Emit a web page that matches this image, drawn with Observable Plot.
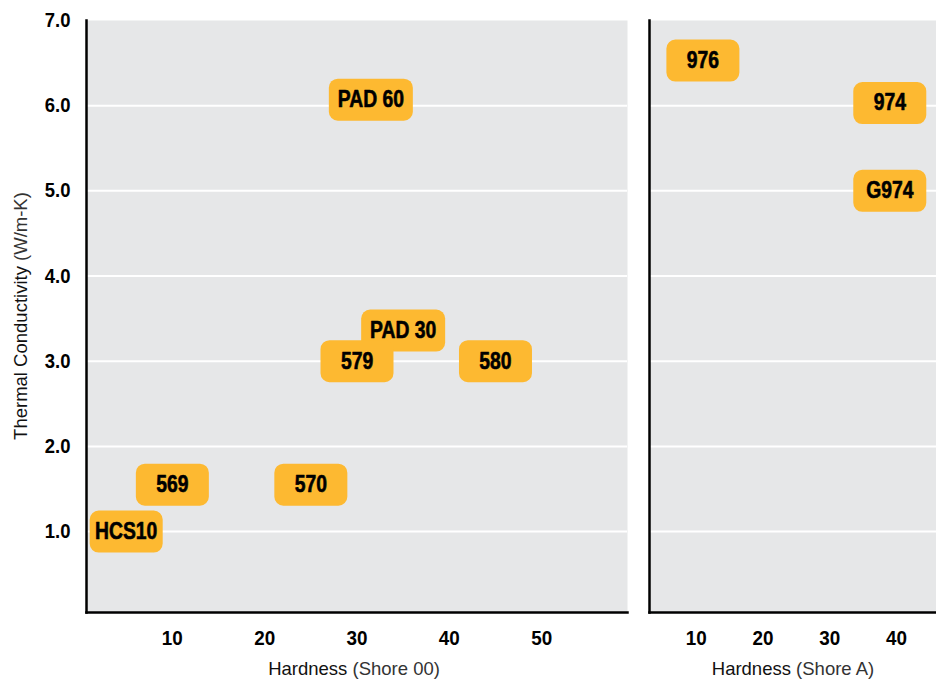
<!DOCTYPE html>
<html>
<head>
<meta charset="utf-8">
<script src="https://cdn.jsdelivr.net/npm/d3@7"></script>
<script src="https://cdn.jsdelivr.net/npm/@observablehq/plot@0.6"></script>
<style>
  html, body { margin: 0; padding: 0; background: #fff; }
  #chart { display: flex; flex-direction: row; width: 936px; height: 679px; }
  #chart svg { display: block; }
</style>
</head>
<body>
<div id="chart"></div>
<script>
// Shore 00 panel
const products00 = ["HCS10", "569", "570", "PAD 30", "579", "580", "PAD 60"];
const hardness00 = [5, 10, 25, 35, 30, 45, 31.5];
const conductivity00 = [1.0, 1.55, 1.55, 3.36, 3.0, 3.0, 6.07];

// Shore A panel
const productsA = ["976", "974", "G974"];
const hardnessA = [11, 39, 39];
const conductivityA = [6.53, 6.03, 5.0];

// tick labels
const yTicks = [1, 2, 3, 4, 5, 6, 7];
const gridTicks = [1, 2, 3, 4, 5, 6];
const xTicks00 = [10, 20, 30, 40, 50];
const xTicksA = [10, 20, 30, 40];

const rows00 = products00.map((p, i) => ({label: p, x: hardness00[i], y: conductivity00[i]}));
const rowsA = productsA.map((p, i) => ({label: p, x: hardnessA[i], y: conductivityA[i]}));

const ORANGE = "#fdb931";
const BG = "#e6e7e8";
const boldFont = "'Liberation Sans', Arial, Helvetica, sans-serif";
const regular = "'Liberation Sans', Arial, Helvetica, sans-serif";

function roundRect(w, h, r) {
  return {
    draw(ctx) {
      const x0 = -w / 2, y0 = -h / 2, x1 = w / 2, y1 = h / 2;
      ctx.moveTo(x0 + r, y0);
      ctx.lineTo(x1 - r, y0);
      ctx.arcTo(x1, y0, x1, y0 + r, r);
      ctx.lineTo(x1, y1 - r);
      ctx.arcTo(x1, y1, x1 - r, y1, r);
      ctx.lineTo(x0 + r, y1);
      ctx.arcTo(x0, y1, x0, y1 - r, r);
      ctx.lineTo(x0, y0 + r);
      ctx.arcTo(x0, y0, x0 + r, y0, r);
      ctx.closePath();
    }
  };
}
const wideBox = roundRect(84, 42, 9);
const narrowBox = roundRect(73, 42, 9);
const isWide = d => d.label.length >= 6;

function labelMarks(rows) {
  return [
    Plot.dot(rows, {filter: isWide, x: "x", y: "y", symbol: wideBox, fill: ORANGE, stroke: null, r: 10}),
    Plot.dot(rows, {filter: d => !isWide(d), x: "x", y: "y", symbol: narrowBox, fill: ORANGE, stroke: null, r: 10}),
    Plot.text(rows, {x: "x", y: "y", text: "label", fill: "#000", stroke: "#000", strokeWidth: 0.6, fontSize: 23, fontWeight: "bold", fontFamily: boldFont, dy: 0})
  ];
}

const yDomain = [0.05, 7];
const tickStyle = {tickSize: 0, fontWeight: "bold", fontSize: 20.5, stroke: "#000", strokeWidth: 0.45, label: null};

const left = Plot.plot({
  width: 627, height: 679,
  marginLeft: 86, marginRight: 0, marginTop: 20, marginBottom: 67,
  style: {fontFamily: boldFont, fontSize: "19px", color: "#000", background: "transparent", overflow: "visible"},
  x: {domain: [0.7, 59.3], label: null},
  y: {domain: yDomain, label: null},
  marks: [
    Plot.frame({fill: BG, stroke: null}),
    Plot.gridY(gridTicks, {stroke: "#fff", strokeOpacity: 1, strokeWidth: 2}),
    Plot.axisY(yTicks, {...tickStyle, tickPadding: 16, tickFormat: d3.format(".1f")}),
    Plot.axisX(xTicks00, {...tickStyle, tickPadding: 18}),
    Plot.frame({anchor: "left", stroke: "#000", strokeWidth: 2.5}),
    Plot.frame({anchor: "bottom", stroke: "#000", strokeWidth: 2.5}),
    ...labelMarks(rows00)
  ]
});

const right = Plot.plot({
  width: 309, height: 679,
  marginLeft: 22, marginRight: 0, marginTop: 20, marginBottom: 67,
  style: {fontFamily: boldFont, fontSize: "19px", color: "#000", background: "transparent", overflow: "visible"},
  x: {domain: [3, 46], label: null},
  y: {domain: yDomain, label: null, axis: null},
  marks: [
    Plot.frame({fill: BG, stroke: null}),
    Plot.gridY(gridTicks, {stroke: "#fff", strokeOpacity: 1, strokeWidth: 2}),
    Plot.axisX(xTicksA, {...tickStyle, tickPadding: 18}),
    Plot.frame({anchor: "left", stroke: "#000", strokeWidth: 2.5}),
    Plot.frame({anchor: "bottom", stroke: "#000", strokeWidth: 2.5}),
    ...labelMarks(rowsA)
  ]
});

const chart = document.getElementById("chart");
chart.appendChild(left);
chart.appendChild(right);

// condense bold text to mimic a condensed typeface
function condense(selector, factor) {
  d3.selectAll(selector).each(function() {
    const len = this.getComputedTextLength();
    if (len > 0) {
      this.setAttribute("textLength", (len * factor).toFixed(2));
      this.setAttribute("lengthAdjust", "spacingAndGlyphs");
    }
  });
}
condense('#chart g[aria-label="text"] text', 0.84);
condense('#chart g[aria-label="y-axis tick label"] text', 0.9);
condense('#chart g[aria-label="x-axis tick label"] text', 0.92);

function axisTitle(svg, x, y, rotate, main, sub) {
  const t = d3.select(svg).append("text")
    .attr("transform", `translate(${x},${y})` + (rotate ? " rotate(-90)" : ""))
    .attr("text-anchor", "middle")
    .attr("dy", "0.35em")
    .style("font-family", regular)
    .style("font-size", "18.5px")
    .attr("fill", "#111");
  t.append("tspan").text(main);
  t.append("tspan").text(" " + sub).attr("fill", "#333").style("font-weight", 300);
}
axisTitle(left, 21, 316, true, "Thermal Conductivity", "(W/m-K)");
axisTitle(left, 354, 669, false, "Hardness", "(Shore 00)");
axisTitle(right, 166, 669, false, "Hardness", "(Shore A)");
</script>
</body>
</html>
